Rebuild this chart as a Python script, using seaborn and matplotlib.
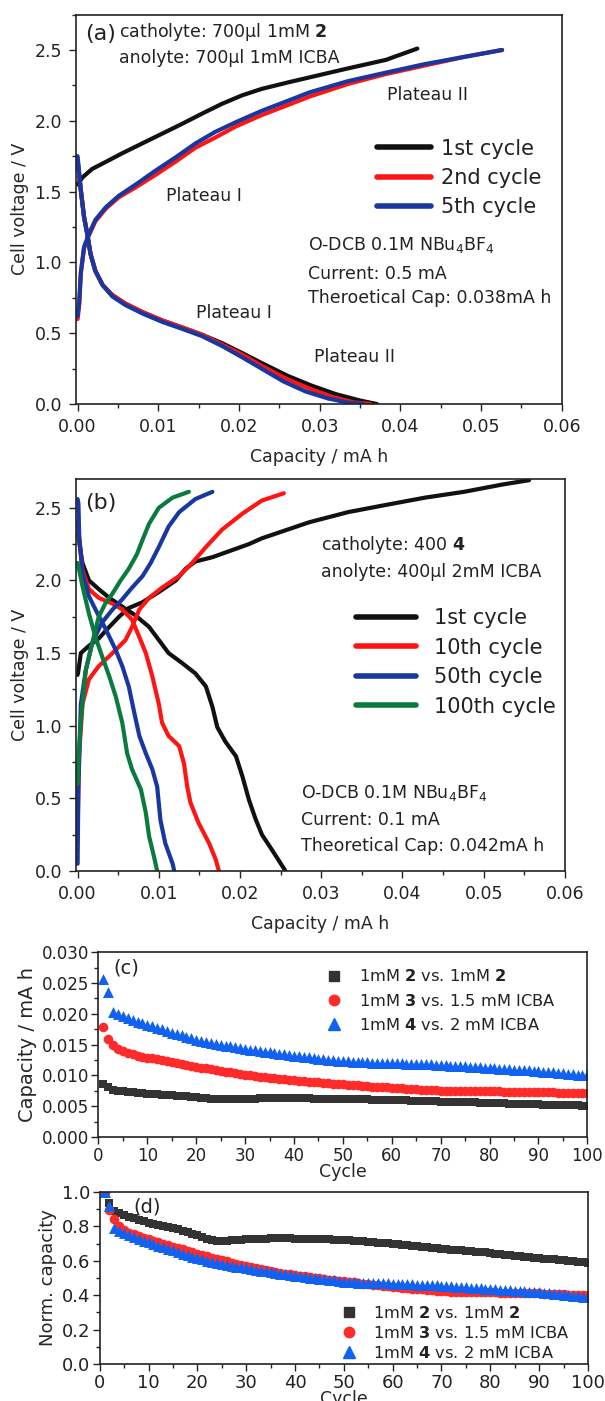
import numpy as np
import pandas as pd
import matplotlib
matplotlib.use("Agg")
import matplotlib.pyplot as plt
import seaborn as sns
from matplotlib.ticker import MultipleLocator, FormatStrFormatter
from matplotlib.lines import Line2D

sns.set_style("ticks")
plt.rcParams['font.family'] = ['DejaVu Sans']
plt.rcParams['mathtext.fontset'] = 'dejavusans'
plt.rcParams['text.color'] = '#222222'
plt.rcParams['axes.edgecolor'] = '#222222'
plt.rcParams['xtick.color'] = '#222222'
plt.rcParams['ytick.color'] = '#222222'

# ---- panel (a): 1mM 2 vs 1mM ICBA, charge / discharge curves
a_chg1_x = [0.0, 0.0006, 0.0018, 0.0035, 0.0055, 0.0080, 0.0105, 0.0130, 0.0154, 0.0179, 0.0204, 0.0228, 0.0260, 0.0290, 0.0335, 0.0382, 0.0421]
a_chg1_y = [1.55, 1.60, 1.66, 1.71, 1.77, 1.84, 1.91, 1.98, 2.05, 2.12, 2.18, 2.225, 2.27, 2.31, 2.37, 2.43, 2.51]
a_chg2_x = [0.0, 0.0002, 0.0004, 0.0008, 0.0014, 0.0022, 0.0035, 0.0051, 0.0072, 0.0097, 0.0121, 0.0146, 0.0170, 0.0196, 0.0228, 0.0260, 0.0287, 0.0335, 0.0382, 0.0430, 0.0478, 0.0526]
a_chg2_y = [0.60, 0.70, 0.92, 1.10, 1.19, 1.29, 1.38, 1.46, 1.53, 1.62, 1.71, 1.81, 1.88, 1.96, 2.04, 2.11, 2.17, 2.26, 2.33, 2.39, 2.45, 2.50]
a_chg5_x = [0.0, 0.0002, 0.0004, 0.0008, 0.0014, 0.0022, 0.0035, 0.0051, 0.0072, 0.0097, 0.0121, 0.0146, 0.0170, 0.0196, 0.0228, 0.0260, 0.0287, 0.0335, 0.0382, 0.0430, 0.0478, 0.0526]
a_chg5_y = [0.62, 0.72, 0.93, 1.11, 1.20, 1.30, 1.39, 1.47, 1.55, 1.65, 1.74, 1.84, 1.92, 1.99, 2.07, 2.14, 2.20, 2.28, 2.34, 2.40, 2.45, 2.50]
a_dis1_x = [0.0, 0.0004, 0.0008, 0.0012, 0.0016, 0.0022, 0.0031, 0.0043, 0.0059, 0.0080, 0.0105, 0.0130, 0.0154, 0.0179, 0.0204, 0.0228, 0.0260, 0.0290, 0.0320, 0.0350, 0.0371]
a_dis1_y = [1.72, 1.51, 1.32, 1.20, 1.06, 0.94, 0.84, 0.77, 0.71, 0.65, 0.59, 0.54, 0.49, 0.43, 0.36, 0.29, 0.20, 0.13, 0.07, 0.025, 0.0]
a_dis2_x = [0.0, 0.0004, 0.0008, 0.0012, 0.0016, 0.0022, 0.0031, 0.0043, 0.0059, 0.0080, 0.0105, 0.0130, 0.0154, 0.0179, 0.0204, 0.0228, 0.0258, 0.0287, 0.0315, 0.0342, 0.0363]
a_dis2_y = [1.70, 1.51, 1.32, 1.20, 1.06, 0.94, 0.84, 0.77, 0.71, 0.65, 0.59, 0.54, 0.49, 0.42, 0.35, 0.27, 0.18, 0.11, 0.05, 0.012, 0.0]
a_dis5_x = [0.0, 0.0004, 0.0008, 0.0012, 0.0016, 0.0022, 0.0031, 0.0043, 0.0059, 0.0080, 0.0105, 0.0130, 0.0154, 0.0179, 0.0204, 0.0228, 0.0255, 0.0282, 0.0310, 0.0335, 0.0354]
a_dis5_y = [1.75, 1.51, 1.32, 1.20, 1.06, 0.94, 0.84, 0.76, 0.70, 0.64, 0.58, 0.53, 0.48, 0.41, 0.33, 0.25, 0.16, 0.09, 0.04, 0.01, 0.0]

# ---- panel (b): 1mM 4 vs 2mM ICBA
b_chg1_x = [0.0, 0.0001, 0.0004, 0.0014, 0.0026, 0.0039, 0.0051, 0.0063, 0.0080, 0.0100, 0.0121, 0.0133, 0.0145, 0.0166, 0.0186, 0.0211, 0.0227, 0.0285, 0.0333, 0.0380, 0.0428, 0.0476, 0.0523, 0.0556]
b_chg1_y = [1.35, 1.38, 1.50, 1.55, 1.60, 1.68, 1.75, 1.81, 1.85, 1.92, 2.00, 2.08, 2.13, 2.16, 2.20, 2.25, 2.29, 2.40, 2.47, 2.52, 2.57, 2.61, 2.66, 2.69]
b_dis1_x = [0.0, 0.0001, 0.0006, 0.0014, 0.0026, 0.0039, 0.0055, 0.0071, 0.0088, 0.0100, 0.0112, 0.0129, 0.0145, 0.0158, 0.0166, 0.0172, 0.0182, 0.0195, 0.0203, 0.0211, 0.0219, 0.0227, 0.0240, 0.0256]
b_dis1_y = [2.32, 2.30, 2.12, 2.00, 1.94, 1.88, 1.82, 1.76, 1.68, 1.59, 1.50, 1.43, 1.36, 1.27, 1.13, 0.99, 0.89, 0.79, 0.65, 0.49, 0.36, 0.25, 0.14, 0.0]
b_chg10_x = [0.0, 0.0002, 0.0006, 0.0014, 0.0026, 0.0043, 0.0059, 0.0067, 0.0076, 0.0088, 0.0104, 0.0125, 0.0141, 0.0158, 0.0178, 0.0203, 0.0227, 0.0254]
b_chg10_y = [0.30, 0.81, 1.15, 1.32, 1.41, 1.50, 1.59, 1.68, 1.80, 1.88, 1.95, 2.03, 2.12, 2.23, 2.35, 2.46, 2.55, 2.60]
b_dis10_x = [0.0, 0.0001, 0.0006, 0.0014, 0.0026, 0.0043, 0.0055, 0.0067, 0.0076, 0.0084, 0.0092, 0.0100, 0.0104, 0.0112, 0.0125, 0.0131, 0.0135, 0.0139, 0.0149, 0.0162, 0.0170, 0.0174]
b_dis10_y = [2.40, 2.35, 2.07, 1.94, 1.88, 1.84, 1.80, 1.73, 1.61, 1.50, 1.34, 1.15, 1.02, 0.93, 0.86, 0.74, 0.58, 0.47, 0.33, 0.19, 0.08, 0.0]
b_chg50_x = [0.0, 0.0001, 0.0004, 0.0010, 0.0018, 0.0030, 0.0043, 0.0055, 0.0067, 0.0080, 0.0090, 0.0100, 0.0112, 0.0125, 0.0145, 0.0166]
b_chg50_y = [0.05, 0.60, 1.15, 1.38, 1.57, 1.71, 1.80, 1.87, 1.95, 2.03, 2.12, 2.23, 2.37, 2.47, 2.56, 2.61]
b_dis50_x = [0.0, 0.0001, 0.0002, 0.0006, 0.0014, 0.0022, 0.0035, 0.0047, 0.0055, 0.0063, 0.0069, 0.0076, 0.0084, 0.0092, 0.0098, 0.0102, 0.0108, 0.0117, 0.0119]
b_dis50_y = [2.56, 2.53, 2.30, 2.05, 1.89, 1.80, 1.66, 1.52, 1.41, 1.27, 1.11, 0.93, 0.81, 0.70, 0.58, 0.35, 0.19, 0.05, 0.0]
b_chg100_x = [0.0, 0.0001, 0.0004, 0.0010, 0.0018, 0.0026, 0.0034, 0.0043, 0.0053, 0.0063, 0.0073, 0.0080, 0.0088, 0.0100, 0.0117, 0.0137]
b_chg100_y = [0.60, 0.75, 1.04, 1.38, 1.57, 1.75, 1.84, 1.91, 2.00, 2.08, 2.18, 2.28, 2.39, 2.50, 2.57, 2.61]
b_dis100_x = [0.0, 0.0002, 0.0006, 0.0014, 0.0022, 0.0030, 0.0039, 0.0047, 0.0055, 0.0061, 0.0067, 0.0078, 0.0084, 0.0088, 0.0094, 0.0098]
b_dis100_y = [2.12, 2.07, 1.96, 1.77, 1.61, 1.48, 1.34, 1.20, 1.02, 0.81, 0.70, 0.56, 0.40, 0.24, 0.10, 0.0]

# ---- panels (c) and (d): capacity vs cycle
cycles = list(range(1, 101))
cap_2 = [0.00860, 0.00805, 0.00765, 0.00755, 0.00746, 0.00737, 0.00728, 0.00720, 0.00713, 0.00706,
         0.00700, 0.00694, 0.00689, 0.00684, 0.00679, 0.00673, 0.00666, 0.00659, 0.00651, 0.00643,
         0.00635, 0.00627, 0.00620, 0.00616, 0.00615, 0.00616, 0.00618, 0.00620, 0.00622, 0.00623,
         0.00624, 0.00625, 0.00626, 0.00627, 0.00628, 0.00628, 0.00628, 0.00628, 0.00628, 0.00627,
         0.00627, 0.00626, 0.00626, 0.00625, 0.00624, 0.00624, 0.00623, 0.00622, 0.00621, 0.00620,
         0.00618, 0.00617, 0.00615, 0.00613, 0.00611, 0.00609, 0.00607, 0.00605, 0.00603, 0.00601,
         0.00598, 0.00596, 0.00593, 0.00591, 0.00588, 0.00586, 0.00583, 0.00581, 0.00578, 0.00576,
         0.00574, 0.00572, 0.00570, 0.00568, 0.00566, 0.00564, 0.00562, 0.00560, 0.00558, 0.00555,
         0.00552, 0.00550, 0.00547, 0.00544, 0.00542, 0.00539, 0.00537, 0.00534, 0.00532, 0.00529,
         0.00527, 0.00525, 0.00523, 0.00521, 0.00518, 0.00516, 0.00514, 0.00512, 0.00510, 0.00507]
cap_3 = [0.01780, 0.01590, 0.01500, 0.01430, 0.01390, 0.01360, 0.01340, 0.01320, 0.01305, 0.01290,
         0.01275, 0.01260, 0.01245, 0.01230, 0.01215, 0.01200, 0.01185, 0.01170, 0.01155, 0.01140,
         0.01127, 0.01114, 0.01101, 0.01088, 0.01075, 0.01062, 0.01049, 0.01036, 0.01023, 0.01010,
         0.01000, 0.00990, 0.00980, 0.00971, 0.00962, 0.00953, 0.00944, 0.00936, 0.00928, 0.00920,
         0.00913, 0.00906, 0.00899, 0.00892, 0.00886, 0.00880, 0.00874, 0.00868, 0.00862, 0.00856,
         0.00850, 0.00844, 0.00838, 0.00832, 0.00826, 0.00820, 0.00815, 0.00810, 0.00805, 0.00800,
         0.00795, 0.00790, 0.00785, 0.00780, 0.00775, 0.00771, 0.00767, 0.00763, 0.00759, 0.00755,
         0.00752, 0.00750, 0.00748, 0.00747, 0.00746, 0.00745, 0.00744, 0.00743, 0.00742, 0.00741,
         0.00740, 0.00739, 0.00738, 0.00737, 0.00736, 0.00735, 0.00734, 0.00733, 0.00732, 0.00730,
         0.00728, 0.00726, 0.00724, 0.00722, 0.00720, 0.00718, 0.00716, 0.00714, 0.00712, 0.00710]
cap_4 = [0.02570, 0.02360, 0.02030, 0.01990, 0.01960, 0.01930, 0.01900, 0.01870, 0.01845, 0.01820,
         0.01795, 0.01770, 0.01745, 0.01720, 0.01696, 0.01672, 0.01648, 0.01625, 0.01602, 0.01580,
         0.01563, 0.01546, 0.01530, 0.01515, 0.01500, 0.01485, 0.01470, 0.01456, 0.01443, 0.01430,
         0.01418, 0.01406, 0.01394, 0.01383, 0.01372, 0.01361, 0.01350, 0.01340, 0.01330, 0.01320,
         0.01310, 0.01300, 0.01291, 0.01282, 0.01273, 0.01264, 0.01256, 0.01248, 0.01240, 0.01232,
         0.01226, 0.01221, 0.01217, 0.01214, 0.01211, 0.01209, 0.01207, 0.01205, 0.01203, 0.01200,
         0.01198, 0.01196, 0.01193, 0.01190, 0.01187, 0.01184, 0.01180, 0.01177, 0.01173, 0.01170,
         0.01165, 0.01160, 0.01155, 0.01150, 0.01145, 0.01140, 0.01135, 0.01130, 0.01125, 0.01120,
         0.01115, 0.01110, 0.01105, 0.01100, 0.01095, 0.01090, 0.01085, 0.01080, 0.01075, 0.01070,
         0.01063, 0.01056, 0.01049, 0.01042, 0.01035, 0.01028, 0.01021, 0.01014, 0.01007, 0.01000]

cell_labels = [r'1mM $\mathbf{2}$ vs. 1mM $\mathbf{2}$',
               r'1mM $\mathbf{3}$ vs. 1.5 mM ICBA',
               r'1mM $\mathbf{4}$ vs. 2 mM ICBA']

BLACK = '#111111'
RED = '#ff1414'
NAVY = '#1838a0'
GREEN = '#0b7a3e'
SQ = '#333333'
RED2 = '#ff2a2a'
BLUE2 = '#1262f2'

fig = plt.figure(figsize=(6.05, 14.01), dpi=100)
ax_a = fig.add_axes([0.1256, 0.7116, 0.803, 0.278])
ax_b = fig.add_axes([0.1256, 0.3783, 0.808, 0.280])
ax_c = fig.add_axes([0.1628, 0.1884, 0.808, 0.132])
ax_d = fig.add_axes([0.1648, 0.0264, 0.807, 0.1228])


def curve(ax, x, y, color, lw=3.0):
    sns.lineplot(x=x, y=y, ax=ax, color=color, lw=lw, sort=False, estimator=None)


def style(ax, lab, fs):
    ax.tick_params(which='both', direction='out', top=False, right=False, width=1.0)
    ax.tick_params(which='major', length=5, labelsize=fs, pad=lab)
    ax.tick_params(which='minor', length=3)
    for s in ax.spines.values():
        s.set_visible(True)
        s.set_linewidth(1.2)


# (a)
for x, y, c in [(a_chg1_x, a_chg1_y, BLACK), (a_dis1_x, a_dis1_y, BLACK),
                (a_chg2_x, a_chg2_y, RED), (a_dis2_x, a_dis2_y, RED),
                (a_chg5_x, a_chg5_y, NAVY), (a_dis5_x, a_dis5_y, NAVY)]:
    curve(ax_a, x, y, c)
ax_a.set_xlim(-0.0002, 0.06)
ax_a.set_ylim(0, 2.75)
ax_a.xaxis.set_major_locator(MultipleLocator(0.01))
ax_a.xaxis.set_minor_locator(MultipleLocator(0.005))
ax_a.yaxis.set_major_locator(MultipleLocator(0.5))
ax_a.yaxis.set_minor_locator(MultipleLocator(0.25))
ax_a.xaxis.set_major_formatter(FormatStrFormatter('%.2f'))
ax_a.yaxis.set_major_formatter(FormatStrFormatter('%.1f'))
style(ax_a, 5, 12.5)
ax_a.set_xlabel('Capacity / mA h', fontsize=12.5, labelpad=9)
ax_a.set_ylabel('Cell voltage / V', fontsize=12.5, labelpad=4)
ax_a.text(0.0009, 2.61, '(a)', fontsize=16, va='center')
ax_a.text(0.0051, 2.63, r'catholyte: 700μl 1mM $\mathbf{2}$', fontsize=12.5, va='center')
ax_a.text(0.0051, 2.44, 'anolyte: 700μl 1mM ICBA', fontsize=12.5, va='center')
ax_a.text(0.0384, 2.18, 'Plateau II', fontsize=12.5, va='center')
ax_a.text(0.0110, 1.47, 'Plateau I', fontsize=12.5, va='center')
ax_a.text(0.0147, 0.64, 'Plateau I', fontsize=12.5, va='center')
ax_a.text(0.0293, 0.33, 'Plateau II', fontsize=12.5, va='center')
ax_a.text(0.0286, 1.12, r'O-DCB 0.1M NBu$_4$BF$_4$', fontsize=12.5, va='center')
ax_a.text(0.0286, 0.915, 'Current: 0.5 mA', fontsize=12.5, va='center')
ax_a.text(0.0286, 0.746, 'Theroetical Cap: 0.038mA h', fontsize=12.5, va='center')
ha = [Line2D([], [], color=c, lw=4) for c in [BLACK, RED, NAVY]]
ax_a.legend(ha, ['1st cycle', '2nd cycle', '5th cycle'], loc='upper left',
            bbox_to_anchor=(0.598, 0.708), frameon=False, fontsize=15, borderpad=0,
            handlelength=2.6, handletextpad=0.47, labelspacing=0.45)

# (b)
for x, y, c in [(b_chg1_x, b_chg1_y, BLACK), (b_dis1_x, b_dis1_y, BLACK),
                (b_chg10_x, b_chg10_y, RED), (b_dis10_x, b_dis10_y, RED),
                (b_chg50_x, b_chg50_y, NAVY), (b_dis50_x, b_dis50_y, NAVY),
                (b_chg100_x, b_chg100_y, GREEN), (b_dis100_x, b_dis100_y, GREEN)]:
    curve(ax_b, x, y, c)
ax_b.set_xlim(-0.0002, 0.06)
ax_b.set_ylim(0, 2.7)
ax_b.xaxis.set_major_locator(MultipleLocator(0.01))
ax_b.xaxis.set_minor_locator(MultipleLocator(0.005))
ax_b.yaxis.set_major_locator(MultipleLocator(0.5))
ax_b.yaxis.set_minor_locator(MultipleLocator(0.25))
ax_b.xaxis.set_major_formatter(FormatStrFormatter('%.2f'))
ax_b.yaxis.set_major_formatter(FormatStrFormatter('%.1f'))
style(ax_b, 5, 12.5)
ax_b.set_xlabel('Capacity / mA h', fontsize=12.5, labelpad=9)
ax_b.set_ylabel('Cell voltage / V', fontsize=12.5, labelpad=4)
ax_b.text(0.0009, 2.53, '(b)', fontsize=16, va='center')
ax_b.text(0.030, 2.245, r'catholyte: 400 $\mathbf{4}$', fontsize=12.5, va='center')
ax_b.text(0.030, 2.06, 'anolyte: 400μl 2mM ICBA', fontsize=12.5, va='center')
ax_b.text(0.0275, 0.54, r'O-DCB 0.1M NBu$_4$BF$_4$', fontsize=12.5, va='center')
ax_b.text(0.0275, 0.35, 'Current: 0.1 mA', fontsize=12.5, va='center')
ax_b.text(0.0275, 0.17, 'Theoretical Cap: 0.042mA h', fontsize=12.5, va='center')
hb = [Line2D([], [], color=c, lw=4) for c in [BLACK, RED, NAVY, GREEN]]
ax_b.legend(hb, ['1st cycle', '10th cycle', '50th cycle', '100th cycle'], loc='upper left',
            bbox_to_anchor=(0.551, 0.696), frameon=False, fontsize=15, borderpad=0,
            handlelength=2.9, handletextpad=0.87, labelspacing=0.45)

# (c) and (d)
df = pd.DataFrame({'cycle': cycles * 3,
                   'cap': cap_2 + cap_3 + cap_4,
                   'cell': [cell_labels[0]] * 100 + [cell_labels[1]] * 100 + [cell_labels[2]] * 100})
df['norm'] = df['cap'] / df.groupby('cell')['cap'].transform('first')

marker_style = [('s', SQ, 38), ('o', RED2, 48), ('^', BLUE2, 62)]
for ax, col in [(ax_c, 'cap'), (ax_d, 'norm')]:
    for lab, (m, c, s) in zip(cell_labels, marker_style):
        sns.scatterplot(data=df[df['cell'] == lab], x='cycle', y=col, marker=m,
                        color=c, s=s, linewidth=0, ax=ax, legend=False)
    ax.set_xlim(0, 100)
    ax.xaxis.set_major_locator(MultipleLocator(10))
    ax.xaxis.set_minor_locator(MultipleLocator(5))
    ax.set_xlabel('Cycle', fontsize=12.5, labelpad=-1)

hc = [Line2D([], [], ls='', marker=m, color=c, markersize=ms)
      for m, c, ms in [('s', SQ, 6.5), ('o', RED2, 7.5), ('^', BLUE2, 8)]]

ax_c.set_ylim(0, 0.030)
ax_c.yaxis.set_major_locator(MultipleLocator(0.005))
ax_c.yaxis.set_minor_locator(MultipleLocator(0.0025))
ax_c.yaxis.set_major_formatter(FormatStrFormatter('%.3f'))
style(ax_c, 2, 12)
ax_c.set_ylabel('Capacity / mA h', fontsize=14, labelpad=3)
ax_c.text(3.1, 0.0274, '(c)', fontsize=14, va='center')
ax_c.legend(hc, cell_labels, loc='upper left', bbox_to_anchor=(0.448, 0.956),
            frameon=False, fontsize=11.7, borderpad=0, handlelength=1,
            handletextpad=1.05, labelspacing=0.5)

ax_d.set_ylim(0, 1.0)
ax_d.yaxis.set_major_locator(MultipleLocator(0.2))
ax_d.yaxis.set_minor_locator(MultipleLocator(0.1))
ax_d.yaxis.set_major_formatter(FormatStrFormatter('%.1f'))
style(ax_d, 2, 13)
ax_d.set_ylabel('Norm. capacity', fontsize=13, labelpad=3)
ax_d.text(6.9, 0.913, '(d)', fontsize=14, va='center')
ax_d.legend(hc, cell_labels, loc='upper left', bbox_to_anchor=(0.478, 0.39),
            frameon=False, fontsize=11.7, borderpad=0, handlelength=1,
            handletextpad=0.98, labelspacing=0.25)

fig.savefig('out.png', dpi=100)
